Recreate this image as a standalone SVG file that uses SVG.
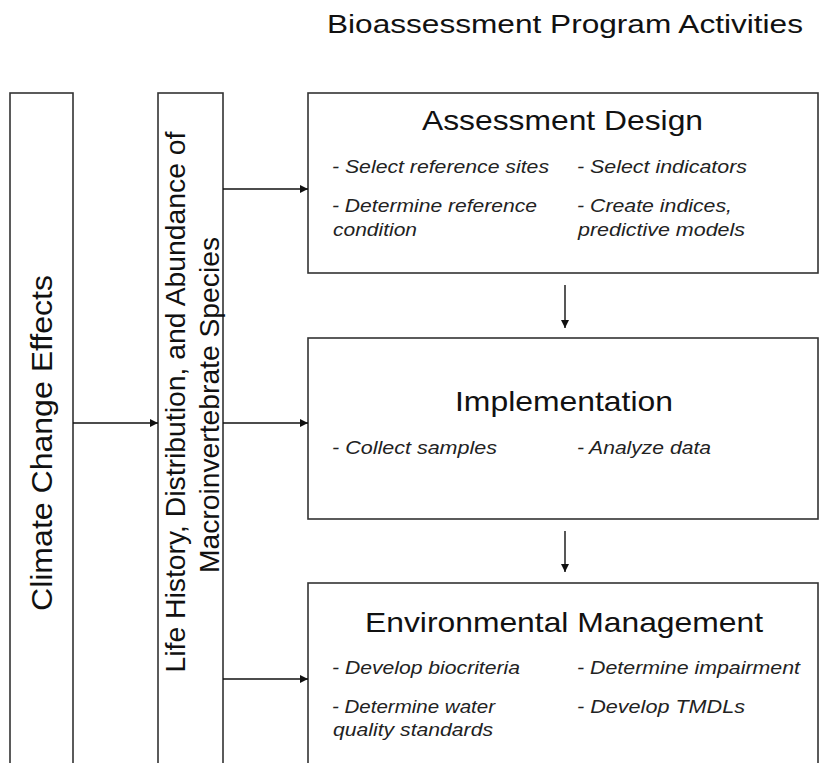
<svg xmlns="http://www.w3.org/2000/svg" width="819" height="763" viewBox="0 0 819 763">
<style>
.box{fill:#fff;stroke:#333;stroke-width:1.6}
.t{font-family:"Liberation Sans",Arial,sans-serif;fill:#111}
.h{font-size:28px}
.i{font-size:19px;font-style:italic;fill:#222}
.v{font-size:28px}
.c{stroke:#111;stroke-width:1.4;fill:none}
</style>
<defs>
<marker id="ah" viewBox="0 0 10 10" refX="10" refY="5" markerWidth="9" markerHeight="8" markerUnits="userSpaceOnUse" orient="auto">
<path d="M0,0 L10,5 L0,10 z" fill="#111"/>
</marker>
</defs>
<rect width="819" height="763" fill="#fff"/>
<text class="t" x="327" y="33" font-size="26" textLength="476" lengthAdjust="spacingAndGlyphs">Bioassessment Program Activities</text>

<g id="climate">
<rect class="box" x="10" y="93" width="63" height="690"/>
<text class="t" font-size="30" text-anchor="middle" textLength="336" lengthAdjust="spacingAndGlyphs" transform="translate(52,443) rotate(-90)">Climate Change Effects</text>
</g>

<g id="lifehistory">
<rect class="box" x="158" y="93" width="65" height="690"/>
<text class="t v" text-anchor="middle" textLength="541" lengthAdjust="spacingAndGlyphs" transform="translate(185,402) rotate(-90)">Life History, Distribution, and Abundance of</text>
<text class="t v" text-anchor="middle" textLength="336" lengthAdjust="spacingAndGlyphs" transform="translate(219,405) rotate(-90)">Macroinvertebrate Species</text>
</g>

<g id="design">
<rect class="box" x="308" y="93" width="510" height="180"/>
<text class="t h" x="422" y="130" textLength="281" lengthAdjust="spacingAndGlyphs">Assessment Design</text>
<text class="t i" x="332" y="173" textLength="217" lengthAdjust="spacingAndGlyphs">- Select reference sites</text>
<text class="t i" x="577" y="173" textLength="170" lengthAdjust="spacingAndGlyphs">- Select indicators</text>
<text class="t i" x="332" y="212" textLength="205" lengthAdjust="spacingAndGlyphs">- Determine reference</text>
<text class="t i" x="333" y="236" textLength="84" lengthAdjust="spacingAndGlyphs">condition</text>
<text class="t i" x="577" y="212" textLength="155" lengthAdjust="spacingAndGlyphs">- Create indices,</text>
<text class="t i" x="578" y="236" textLength="167" lengthAdjust="spacingAndGlyphs">predictive models</text>
</g>

<g id="implementation">
<rect class="box" x="308" y="338" width="510" height="181"/>
<text class="t h" x="455" y="411" textLength="218" lengthAdjust="spacingAndGlyphs">Implementation</text>
<text class="t i" x="332" y="454" textLength="165" lengthAdjust="spacingAndGlyphs">- Collect samples</text>
<text class="t i" x="577" y="454" textLength="134" lengthAdjust="spacingAndGlyphs">- Analyze data</text>
</g>

<g id="management">
<rect class="box" x="308" y="583" width="510" height="200"/>
<text class="t h" x="365" y="632" textLength="398" lengthAdjust="spacingAndGlyphs">Environmental Management</text>
<text class="t i" x="332" y="674" textLength="188" lengthAdjust="spacingAndGlyphs">- Develop biocriteria</text>
<text class="t i" x="577" y="674" textLength="223" lengthAdjust="spacingAndGlyphs">- Determine impairment</text>
<text class="t i" x="332" y="713" textLength="163" lengthAdjust="spacingAndGlyphs">- Determine water</text>
<text class="t i" x="333" y="736" textLength="160" lengthAdjust="spacingAndGlyphs">quality standards</text>
<text class="t i" x="577" y="713" textLength="168" lengthAdjust="spacingAndGlyphs">- Develop TMDLs</text>
</g>

<g id="connectors">
<line class="c" x1="73" y1="423" x2="158" y2="423" marker-end="url(#ah)"/>
<line class="c" x1="223" y1="189" x2="308" y2="189" marker-end="url(#ah)"/>
<line class="c" x1="223" y1="423" x2="308" y2="423" marker-end="url(#ah)"/>
<line class="c" x1="223" y1="679" x2="308" y2="679" marker-end="url(#ah)"/>
<line class="c" x1="565" y1="285" x2="565" y2="328" marker-end="url(#ah)"/>
<line class="c" x1="565" y1="531" x2="565" y2="572" marker-end="url(#ah)"/>
</g>
</svg>
